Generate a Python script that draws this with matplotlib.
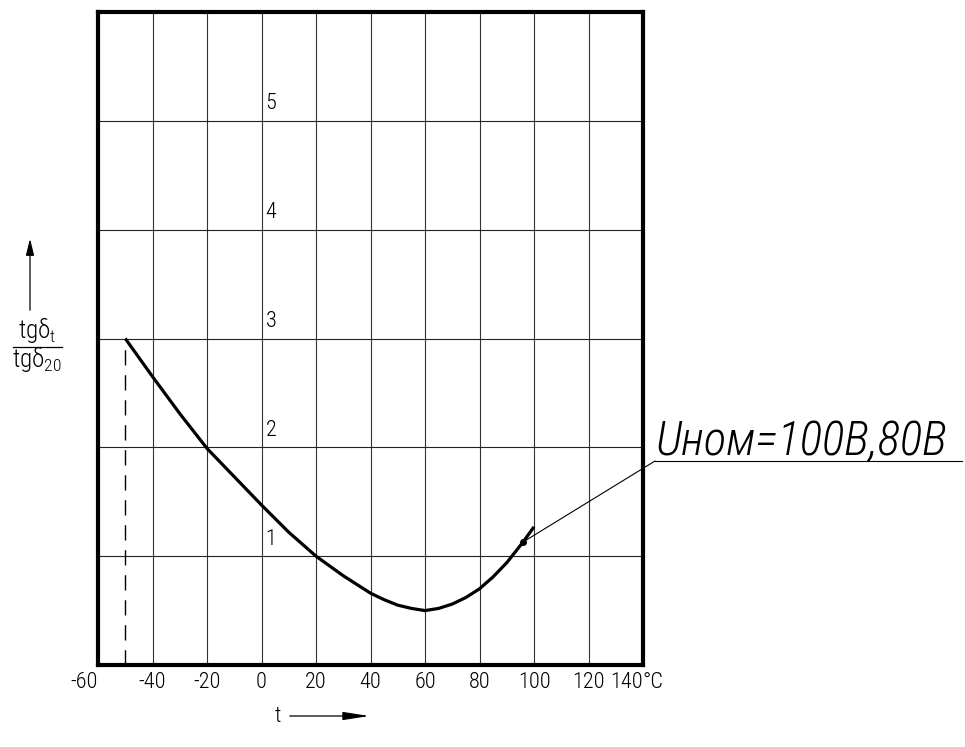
import matplotlib
matplotlib.use("Agg")
import matplotlib.pyplot as plt
from matplotlib import font_manager
from matplotlib.lines import Line2D
from matplotlib.patches import FancyArrowPatch

# ---- data ----
t_vals = [-50, -40, -30, -20, -10, 0, 10, 20, 30, 40, 45, 50, 55, 60, 65, 70, 75, 80, 85, 90, 96, 100]
ratio_vals = [3.0, 2.65, 2.31, 1.99, 1.73, 1.47, 1.22, 1.0, 0.82, 0.66, 0.60, 0.55, 0.52, 0.50, 0.52, 0.56, 0.62, 0.70, 0.81, 0.94, 1.13, 1.27]
x_ticks = [-60, -40, -20, 0, 20, 40, 60, 80, 100, 120, 140]
x_tick_labels = ["-60", "-40", "-20", "0", "20", "40", "60", "80", "100", "120", "140"]
y_levels = [1, 2, 3, 4, 5]
y_level_labels = ["1", "2", "3", "4", "5"]
dash_t = -50
dash_top = 3.0
note_t, note_r = 96, 1.13
note_text = "Uном=100В,80В"

names = {f.name for f in font_manager.fontManager.ttflist}
FONT = "Roboto Condensed" if "Roboto Condensed" in names else "DejaVu Sans"
plt.rcParams['font.family'] = [FONT, 'DejaVu Sans']
plt.rcParams['font.weight'] = 'light'
plt.rcParams['mathtext.fontset'] = 'custom'
plt.rcParams['mathtext.rm'] = FONT
plt.rcParams['mathtext.it'] = FONT

W, H = 965, 747
fig = plt.figure(figsize=(W / 100, H / 100), dpi=100)
ax = fig.add_axes([98 / W, 1 - 665 / H, (643 - 98) / W, (665 - 12) / H])

def fx(px):
    return px / W

def fy(py):
    return 1 - py / H

ax.set_xlim(-60, 140)
ax.set_ylim(0, 6)
for xv in x_ticks[1:-1]:
    ax.axvline(xv, color='#333333', lw=0.8, zorder=1)
for yv in range(1, 6):
    ax.axhline(yv, color='#222222', lw=0.8, zorder=1)

for s in ax.spines.values():
    s.set_linewidth(3)
    s.set_color('black')

ax.set_xticks(x_ticks)
ax.set_xticklabels(x_tick_labels, fontsize=16, fontweight='light')
ax.tick_params(axis='x', length=0, pad=5)
ax.set_yticks([])
labels = ax.get_xticklabels()
labels[0].set_ha('right')
labels[-1].set_ha('right')
fig.text(fx(643), fy(688), "°C", fontsize=16, ha='left', va='baseline',
         fontweight='light')

for yv, lab in zip(y_levels, y_level_labels):
    ax.text(1.5, yv + 0.06, lab, fontsize=16, ha='left', va='bottom',
            fontweight='light')

ax.plot([dash_t, dash_t], [0, dash_top], color='black', lw=1.0,
        dashes=(11, 7), zorder=2)
ax.plot(t_vals, ratio_vals, color='black', lw=2.3, zorder=3,
        solid_capstyle='butt', solid_joinstyle='round')
ax.plot([note_t], [note_r], 'o', color='black', ms=4, zorder=4)

# leader line and annotation
ax.annotate('', xy=(note_t, note_r), xycoords='data',
            xytext=(fx(655), fy(461)), textcoords='figure fraction',
            arrowprops=dict(arrowstyle='-', lw=0.8, color='black',
                            shrinkA=0, shrinkB=0), annotation_clip=False)
fig.add_artist(Line2D([fx(655), fx(962)], [fy(461), fy(461)],
                      transform=fig.transFigure, color='black', lw=0.8))
fig.text(fx(656), fy(455), note_text, fontsize=34, style='italic',
         fontweight='light', ha='left', va='baseline')

# y label fraction and arrow
fig.text(fx(37), fy(338), r'$\mathrm{tg\delta_{t}}$', fontsize=18,
         ha='center', va='baseline')
fig.add_artist(Line2D([fx(13), fx(62)], [fy(347), fy(347)],
                      transform=fig.transFigure, color='black', lw=0.9))
fig.text(fx(37), fy(367), r'$\mathrm{tg\delta_{20}}$', fontsize=18,
         ha='center', va='baseline')
fig.add_artist(FancyArrowPatch(
    (fx(30), fy(313)), (fx(30), fy(236)), transform=fig.transFigure,
    arrowstyle='-|>,head_length=10,head_width=2.5', lw=0.9, color='black',
    mutation_scale=1))

# x label and arrow
fig.text(fx(278), fy(722), "t", fontsize=16, ha='center', va='baseline',
         fontweight='light')
fig.add_artist(FancyArrowPatch(
    (fx(287), fy(716)), (fx(372), fy(716)), transform=fig.transFigure,
    arrowstyle='-|>,head_length=16,head_width=2.5', lw=0.9, color='black',
    mutation_scale=1))

fig.savefig("out.png", dpi=100, facecolor='white')
